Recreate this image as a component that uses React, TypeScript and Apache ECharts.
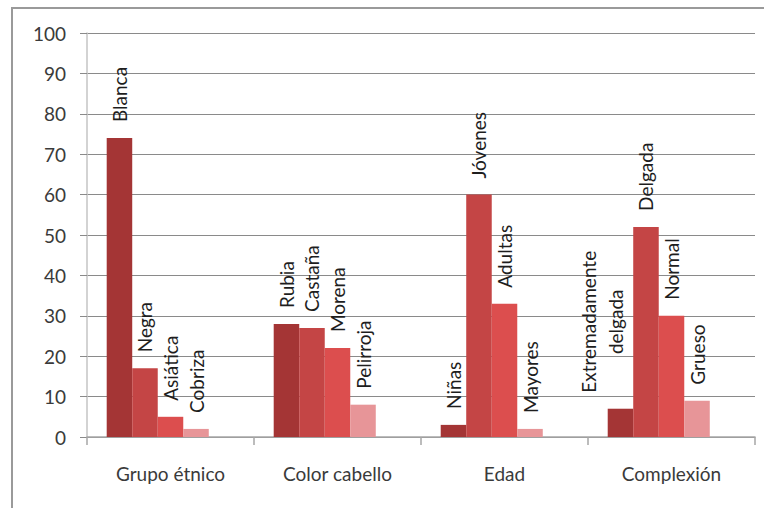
import React, { useEffect, useRef } from "react";
import * as echarts from "echarts";

const categories = ["Grupo étnico", "Color cabello", "Edad", "Complexión"];
const yTicks = [0, 10, 20, 30, 40, 50, 60, 70, 80, 90, 100];

const series1 = [74, 28, 3, 7];
const series2 = [17, 27, 60, 52];
const series3 = [5, 22, 33, 30];
const series4 = [2, 8, 2, 9];
const series5: (number | null)[] = [null, null, null, null];

const labels1 = ["Blanca", "Rubia", "Niñas", "Extremadamente\ndelgada"];
const labels2 = ["Negra", "Castaña", "Jóvenes", "Delgada"];
const labels3 = ["Asiática", "Morena", "Adultas", "Normal"];
const labels4 = ["Cobriza", "Pelirroja", "Mayores", "Grueso"];
const labels5 = ["", "", "", ""];

const colors = ["#A43535", "#C44545", "#DC4E4E", "#E79598", "#cccccc"];
const FONT = "Lato, 'Open Sans', sans-serif";

export default function App() {
  const ref = useRef<HTMLDivElement>(null);
  useEffect(() => {
    if (!ref.current) return;
    const chart = echarts.init(ref.current, undefined, { renderer: "svg" });
    const allValues = [series1, series2, series3, series4, series5];
    const allLabels = [labels1, labels2, labels3, labels4, labels5];
    const seriesList = allValues.map((vals, s) => ({
      type: "bar",
      name: "S" + (s + 1),
      barGap: "0%",
      barCategoryGap: "23.6%",
      itemStyle: { color: colors[s] },
      data: vals.map((v, i) => {
        const lbl = allLabels[s][i];
        const item: any = { value: v };
        if (lbl.indexOf("\n") >= 0) {
          item.label = { offset: [0, -18] };
        }
        return item;
      }),
      label: {
        show: true,
        position: "top",
        rotate: 90,
        align: "left",
        verticalAlign: "middle",
        distance: 16,
        fontFamily: FONT,
        fontSize: 19,
        lineHeight: 27,
        color: "#1e1e1e",
        formatter: (p: any) => {
          const t = allLabels[p.seriesIndex][p.dataIndex];
          return t
            .split("\n")
            .map((line: string) => "{c|" + line + "}")
            .join("\n");
        },
        rich: {
          c: {
            align: "center",
            fontFamily: FONT,
            fontSize: 19,
            lineHeight: 27,
            color: "#1e1e1e",
          },
        },
      },
    }));

    chart.setOption({
      animation: false,
      backgroundColor: "#ffffff",
      grid: { left: 87, right: 9, top: 33, bottom: 71, containLabel: false },
      xAxis: {
        type: "category",
        data: categories,
        axisLine: { show: true, lineStyle: { color: "#a6a6a6", width: 1.5 } },
        axisTick: { show: true, length: 8, lineStyle: { color: "#a6a6a6", width: 1.5 } },
        axisLabel: {
          margin: 27,
          fontFamily: FONT,
          fontSize: 19,
          color: "#3a3a3a",
        },
      },
      yAxis: {
        type: "value",
        min: yTicks[0],
        max: yTicks[yTicks.length - 1],
        interval: 10,
        axisLine: { show: true, lineStyle: { color: "#c4c4c4", width: 1.5 } },
        axisTick: { show: true, length: 7, lineStyle: { color: "#8a8a8a" } },
        splitLine: { show: true, lineStyle: { color: "#8a8a8a", width: 1 } },
        axisLabel: {
          margin: 21,
          fontFamily: FONT,
          fontSize: 19,
          color: "#3a3a3a",
        },
      },
      graphic: [
        {
          type: "rect",
          shape: { x: 12, y: 8, width: 800, height: 600 },
          style: { fill: "none", stroke: "#9a9a9a", lineWidth: 2 },
          silent: true,
        },
      ],
      series: seriesList,
    });
    return () => chart.dispose();
  }, []);
  return (
    <div
      ref={ref}
      style={{ position: "fixed", left: 0, top: 0, width: 764, height: 508 }}
    />
  );
}
